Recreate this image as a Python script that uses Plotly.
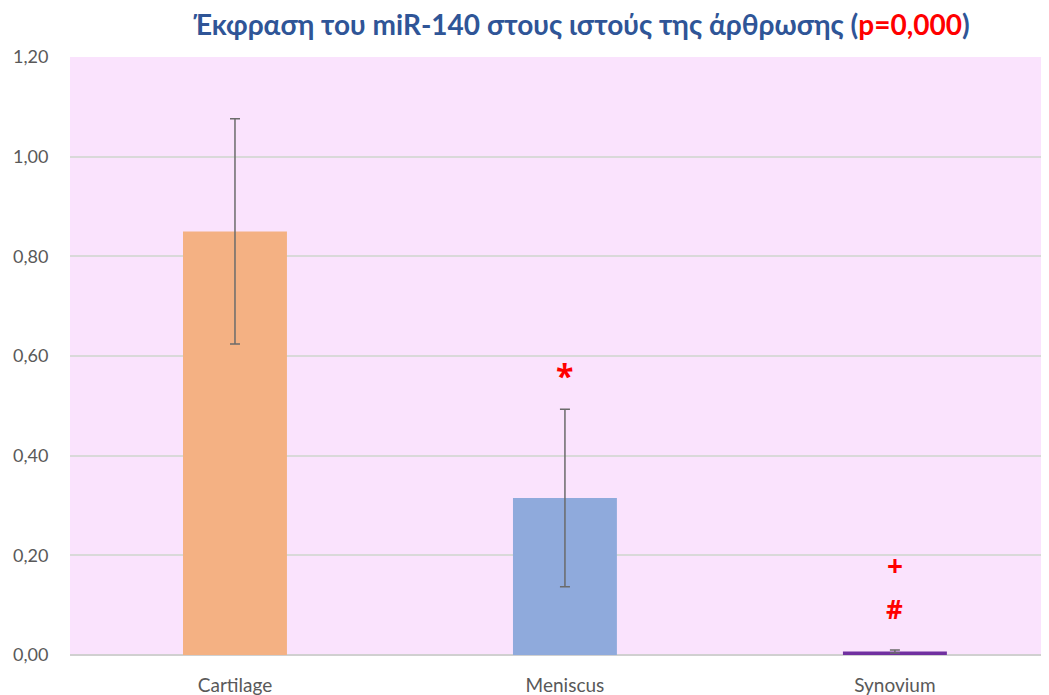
import plotly.graph_objects as go

categories = ["Cartilage", "Meniscus", "Synovium"]
values = [0.85, 0.315, 0.007]
errors = [0.226, 0.178, 0.003]
bar_colors = ["#F4B183", "#8FAADC", "#7030A0"]
tick_vals = [0, 0.2, 0.4, 0.6, 0.8, 1.0, 1.2]
marks = [("Meniscus", 0.56, "*", 32), ("Synovium", 0.18, "+", 28), ("Synovium", 0.092, "#", 26)]

FONT = "Lato"

fig = go.Figure()
fig.add_trace(go.Bar(
    x=categories, y=values,
    marker=dict(color=bar_colors, line=dict(width=0)),
    width=0.315,
    error_y=dict(type="data", array=errors, visible=True, color="#6B6B6B", thickness=1.5, width=5),
))

for cat, yv, txt, sz in marks:
    fig.add_annotation(x=cat, y=yv, text=f"<b>{txt}</b>", showarrow=False,
                       font=dict(color="#FF0000", size=sz, family="Open Sans"))

fig.update_layout(
    width=1041, height=687,
    margin=dict(l=62, r=0, t=49, b=40),
    paper_bgcolor="white",
    plot_bgcolor="#FAE3FD",
    separators=",.",
    showlegend=False,
    title=dict(
        text="<b>Έκφραση του miR-140 στους ιστούς της άρθρωσης (<span style='color:#FF0000'>p=0,000</span>)</b>",
        x=0.551, xanchor="center", y=0.9753, yanchor="middle",
        font=dict(family=FONT, size=28, color="#2F5597"),
    ),
    xaxis=dict(
        range=[-0.5, 2.467],
        automargin=False,
        showgrid=False,
        ticks="outside", ticklen=13, tickcolor="rgba(0,0,0,0)",
        tickfont=dict(family=FONT, size=19, color="#595959"),
        showline=False, zeroline=False,
    ),
    yaxis=dict(
        range=[0, 1.2],
        automargin=False,
        tickvals=tick_vals,
        tickformat=".2f",
        showgrid=True, gridcolor="#D9D9D9", gridwidth=1.5,
        ticks="outside", ticklen=17, tickcolor="rgba(0,0,0,0)",
        tickfont=dict(family=FONT, size=18, color="#595959"),
        zeroline=True, zerolinecolor="#D0D0D0", zerolinewidth=2,
        showline=False,
    ),
)

fig.write_html("out.html")
